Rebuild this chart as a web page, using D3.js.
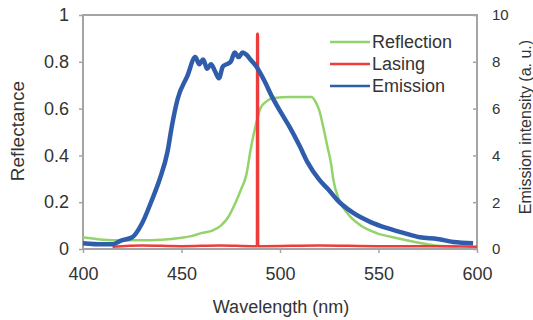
<!DOCTYPE html>
<html>
<head>
<meta charset="utf-8">
<script src="https://cdn.jsdelivr.net/npm/d3@7"></script>
<style>
  body { margin: 0; background: #fff; }
  text { font-family: "Liberation Sans", Arial, sans-serif; fill: #333; }
</style>
</head>
<body>
<div id="chart"></div>
<script>
// wavelength (nm) / value pairs
const reflWave = [400, 405, 410, 420, 430, 440, 449, 455, 460, 466, 470, 474, 477, 480, 483, 485, 488, 490, 493, 497, 505, 512, 516, 518, 520, 522, 524, 526, 527, 530, 534, 541, 549, 559, 571, 580, 590];
const reflValue = [0.05, 0.045, 0.04, 0.037, 0.037, 0.04, 0.047, 0.055, 0.068, 0.08, 0.1, 0.14, 0.19, 0.25, 0.32, 0.42, 0.54, 0.6, 0.63, 0.645, 0.65, 0.65, 0.65, 0.63, 0.59, 0.52, 0.44, 0.36, 0.3, 0.21, 0.155, 0.1, 0.068, 0.047, 0.026, 0.014, 0.012];

const laseWave = [415, 430, 450, 470, 486, 488.3, 488.4, 488.8, 488.9, 491, 520, 550, 580, 600];
const laseValue = [0.1, 0.15, 0.12, 0.15, 0.12, 0.12, 9.2, 9.2, 0.12, 0.12, 0.15, 0.12, 0.12, 0.1];

const emisWave = [400, 410, 415, 419, 425, 430, 435, 439, 443, 445, 448, 453, 457, 459, 461, 463, 465, 467, 469, 471, 473, 475, 477, 479, 481, 483, 485, 488, 492, 496, 500, 505, 510, 514, 520, 525, 529, 537, 546, 554, 563, 571, 580, 588, 598];
const emisValue = [0.25, 0.2, 0.2, 0.35, 0.5, 1.1, 2.1, 3.0, 4.2, 5.2, 6.4, 7.4, 8.2, 7.9, 8.1, 7.7, 7.9, 7.6, 7.3, 7.8, 7.9, 8.0, 8.4, 8.2, 8.4, 8.3, 8.1, 7.8, 7.2, 6.5, 5.9, 5.2, 4.4, 3.7, 2.95, 2.5, 2.1, 1.55, 1.15, 0.9, 0.68, 0.5, 0.43, 0.3, 0.25];

const xTicks = [400, 450, 500, 550, 600];
const leftTicks = [0, 0.2, 0.4, 0.6, 0.8, 1];
const rightTicks = [0, 2, 4, 6, 8, 10];
const legendNames = ["Reflection", "Lasing", "Emission"];
const colors = ["#94d36b", "#ee3b3b", "#2f5dab"];

const fullWidth = 533, fullHeight = 320;
const margin = { top: 15, right: 56, bottom: 71, left: 83 };
const width = fullWidth - margin.left - margin.right;
const height = fullHeight - margin.top - margin.bottom;

const svg = d3.select('#chart')
  .append('svg')
  .attr('width', fullWidth)
  .attr('height', fullHeight);

const g = svg.append('g')
  .attr('transform', `translate(${margin.left}, ${margin.top})`);

const x = d3.scaleLinear().domain([400, 600]).range([0, width]);
const yLeft = d3.scaleLinear().domain([0, 1]).range([height, 0]);
const yRight = d3.scaleLinear().domain([0, 10]).range([height, 0]);

// frame
g.append('rect')
  .attr('width', width)
  .attr('height', height)
  .attr('fill', 'none')
  .attr('stroke', '#a4a4a4')
  .attr('stroke-width', 2);

const xAxis = g.append('g')
  .attr('transform', `translate(0, ${height})`)
  .call(d3.axisBottom(x).tickValues(xTicks).tickSize(4).tickPadding(14).tickFormat(d3.format('d')));

const leftAxis = g.append('g')
  .call(d3.axisLeft(yLeft).tickValues(leftTicks).tickSize(4).tickPadding(10).tickFormat(d => d));

const rightAxis = g.append('g')
  .attr('transform', `translate(${width}, 0)`)
  .call(d3.axisRight(yRight).tickValues(rightTicks).tickSize(-4).tickPadding(15));

[xAxis, leftAxis, rightAxis].forEach(a => {
  a.select('.domain').remove();
  a.selectAll('line').attr('stroke', '#a4a4a4').attr('stroke-width', 1.5);
  a.selectAll('text').attr('fill', '#333').style('font-family', '"Liberation Sans", Arial, sans-serif');
});
xAxis.selectAll('text').style('font-size', '18px');
leftAxis.selectAll('text').style('font-size', '18px');
rightAxis.selectAll('text').style('font-size', '15px');

// series
const line = (xs, ys, yScale) => d3.line()
  .curve(d3.curveMonotoneX)
  .x((d, i) => x(xs[i]))
  .y((d, i) => yScale(ys[i]))(xs);

g.append('path')
  .attr('d', line(reflWave, reflValue, yLeft))
  .attr('fill', 'none').attr('stroke', colors[0]).attr('stroke-width', 2.5);

g.append('path')
  .attr('d', line(laseWave, laseValue, yRight))
  .attr('fill', 'none').attr('stroke', colors[1]).attr('stroke-width', 2.5);

g.append('path')
  .attr('d', line(emisWave, emisValue, yRight))
  .attr('fill', 'none').attr('stroke', colors[2]).attr('stroke-width', 4.5)
  .attr('stroke-linejoin', 'round');

// legend
const legend = g.append('g').attr('transform', 'translate(247, 27)');
legendNames.forEach((name, i) => {
  const row = legend.append('g').attr('transform', `translate(0, ${i * 22})`);
  row.append('line')
    .attr('x1', 0).attr('x2', 40)
    .attr('stroke', colors[i]).attr('stroke-width', 2.5);
  row.append('text')
    .attr('x', 42).attr('dy', '0.35em')
    .style('font-size', '18px')
    .text(name);
});

// axis titles
svg.append('text')
  .attr('x', 281).attr('y', 313)
  .attr('text-anchor', 'middle')
  .style('font-size', '18px')
  .text('Wavelength (nm)');

svg.append('text')
  .attr('transform', 'translate(24, 131) rotate(-90)')
  .attr('text-anchor', 'middle')
  .style('font-size', '19px')
  .text('Reflectance');

svg.append('text')
  .attr('transform', 'translate(531, 127) rotate(-90)')
  .attr('text-anchor', 'middle')
  .style('font-size', '16px')
  .text('Emission intensity (a. u.)');
</script>
</body>
</html>
